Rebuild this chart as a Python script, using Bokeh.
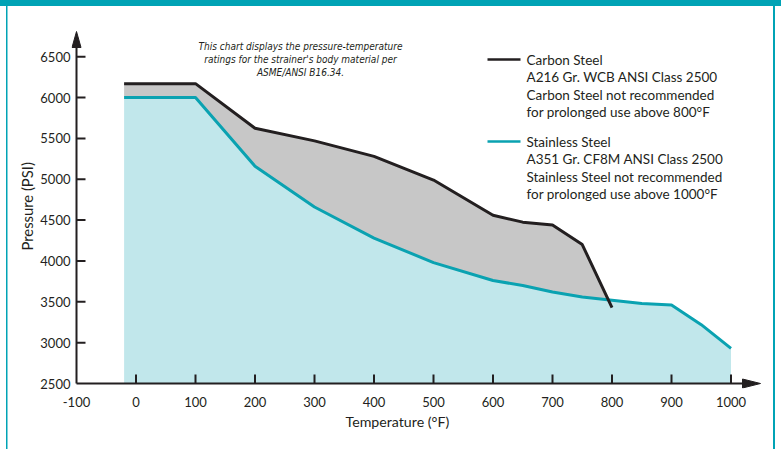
from bokeh.plotting import figure
from bokeh.models import Label, Arrow, FixedTicker, Range1d, Title
from bokeh.embed import file_html
from bokeh.resources import INLINE

# ---- data ----
temps_cs = [-20, 100, 200, 300, 400, 500, 600, 650, 700, 750, 800]
carbon = [6170, 6170, 5625, 5470, 5280, 4990, 4560, 4475, 4440, 4200, 3430]
temps_ss = [-20, 100, 200, 300, 400, 500, 600, 650, 700, 750, 800, 850, 900, 950, 1000]
stainless = [6000, 6000, 5160, 4660, 4280, 3980, 3760, 3700, 3620, 3560, 3520, 3480, 3460, 3220, 2930]
x_ticks = [-100, 0, 100, 200, 300, 400, 500, 600, 700, 800, 900, 1000]
y_ticks = [2500, 3000, 3500, 4000, 4500, 5000, 5500, 6000, 6500]
legend_cs = ["Carbon Steel", "A216 Gr. WCB ANSI Class 2500",
             "Carbon Steel not recommended", "for prolonged use above 800°F"]
legend_ss = ["Stainless Steel", "A351 Gr. CF8M ANSI Class 2500",
             "Stainless Steel not recommended", "for prolonged use above 1000°F"]
note = ["This chart displays the pressure-temperature",
        "ratings for the strainer's body material per",
        "ASME/ANSI B16.34."]

# ---- layout constants (pixels) ----
W, H = 781, 449
AX, AY = 76, 383          # pixel of axis origin (-100 °F, 2500 PSI)
FL, FB, FT = 71, 388, 26  # frame left / bottom / top
SX = 0.595                # px per °F
SY = 0.0817               # px per PSI
X0, Y0 = -100, 2500

def dx(px):
    return X0 + (px - AX) / SX

def dy(py):
    return Y0 + (AY - py) / SY

INK = "#231f20"
TEAL = "#0aa2b1"
FILL = "#c1e7eb"
GREY = "#c7c7c7"
BAND = "#00a3b5"
FONT = "Lato"

p = figure(width=W, height=H, output_backend="svg", toolbar_location=None,
           x_range=Range1d(dx(FL), dx(W)), y_range=Range1d(dy(FB), dy(FT)),
           min_border_left=FL, min_border_right=0,
           min_border_top=FT, min_border_bottom=H - FB)
g = "linear-gradient(%s,%s)" % (BAND, BAND)
p.styles = {
    "background": "%s 0 0/100%% 6px no-repeat, %s 6px 0/1.5px 100%% no-repeat, "
                  "%s 772.5px 0/2px 100%% no-repeat, white" % (g, g, g)
}
p.outline_line_color = None
p.grid.visible = False
p.background_fill_color = None
p.border_fill_color = None

# fills
p.varea(x=temps_cs, y1=stainless[:len(temps_cs)], y2=carbon, fill_color=GREY)
p.varea(x=temps_ss, y1=Y0, y2=stainless, fill_color=FILL)
# lines
p.line(temps_ss, stainless, line_color=TEAL, line_width=3)
p.line(temps_cs, carbon, line_color=INK, line_width=3)

# axis lines, ticks and arrow heads
p.segment(x0=[X0, X0], y0=[Y0, Y0], x1=[dx(748), X0], y1=[Y0, dy(40)], line_color=INK, line_width=2)
p.segment(x0=x_ticks[1:], y0=Y0, x1=x_ticks[1:], y1=Y0 + 9 / SY, line_color=INK, line_width=2)
p.segment(x0=X0, y0=y_ticks[1:], x1=X0 + 9 / SX, y1=y_ticks[1:], line_color=INK, line_width=2)
p.patch([dx(AX), dx(AX - 4.5), dx(AX + 4.5)], [dy(31), dy(47), dy(47)],
        fill_color=INK, line_color=INK, line_width=1)
p.patch([dx(760), dx(742), dx(742)], [dy(AY), dy(AY - 4.5), dy(AY + 4.5)],
        fill_color=INK, line_color=INK, line_width=1)

# axes (labels)
for ax in (p.xaxis[0], p.yaxis[0]):
    ax.axis_line_color = None
    ax.major_tick_line_color = None
    ax.minor_tick_line_color = None
    ax.major_tick_in = 0
    ax.major_tick_out = 0
    ax.major_label_text_font = FONT
    ax.major_label_text_font_size = "13px"
    ax.major_label_text_color = INK
p.xaxis.ticker = FixedTicker(ticks=x_ticks)
p.yaxis.ticker = FixedTicker(ticks=y_ticks)
p.xaxis.major_label_overrides = {-100: "-100"}
p.xaxis.major_label_standoff = 8
p.yaxis.major_label_standoff = 1

# axis titles
p.add_layout(Title(text="Pressure (PSI)", align="left", offset=FB - 250,
                   text_font=FONT, text_font_style="normal", text_font_size="14.8px",
                   text_color=INK, standoff=3), "left")
p.add_layout(Title(text="Temperature (°F)", align="left", offset=345 - FL,
                   text_font=FONT, text_font_style="normal", text_font_size="14.2px",
                   text_color=INK, standoff=2), "below")

# note
for i, t in enumerate(note):
    p.add_layout(Label(x=dx(300), y=dy(46 + 13 * i), text=t, text_align="center",
                       text_baseline="middle", text_font="DejaVu Sans Condensed",
                       text_font_style="italic", text_font_size="10px", text_color=INK))

# legend
for block, col, y_top in ((legend_cs, INK, 59), (legend_ss, TEAL, 141)):
    p.add_layout(Arrow(end=None, x_start=dx(487), x_end=dx(520), y_start=dy(y_top), y_end=dy(y_top),
                       line_color=col, line_width=2.5))
    for i, t in enumerate(block):
        p.add_layout(Label(x=dx(526), y=dy(y_top + 17.5 * i), text=t, text_align="left",
                           text_baseline="middle", text_font=FONT, text_font_size="13.5px",
                           text_color=INK))

open("out.html", "w").write(file_html(p, INLINE))
